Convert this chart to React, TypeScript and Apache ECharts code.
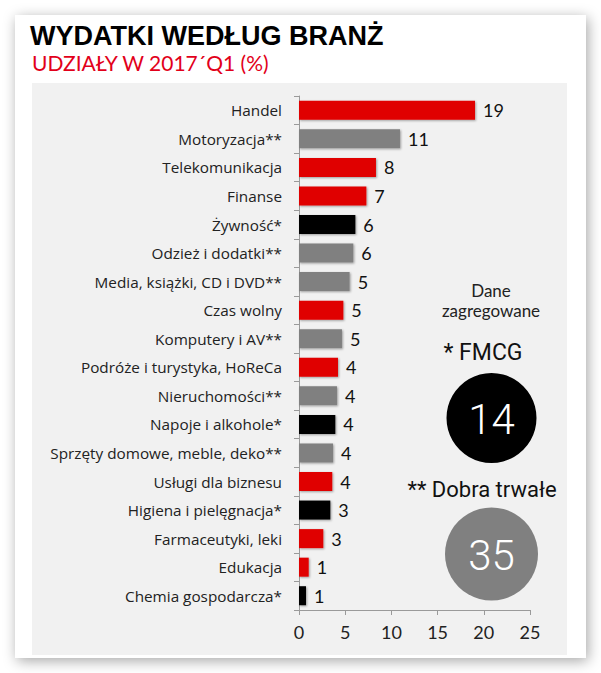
import React, { useEffect, useRef } from "react";
import * as echarts from "echarts";

const categories = [
  "Handel",
  "Motoryzacja**",
  "Telekomunikacja",
  "Finanse",
  "Żywność*",
  "Odzież i dodatki**",
  "Media, książki, CD i DVD**",
  "Czas wolny",
  "Komputery i AV**",
  "Podróże i turystyka, HoReCa",
  "Nieruchomości**",
  "Napoje i alkohole*",
  "Sprzęty domowe, meble, deko**",
  "Usługi dla biznesu",
  "Higiena i pielęgnacja*",
  "Farmaceutyki, leki",
  "Edukacja",
  "Chemia gospodarcza*",
];
const values = [19.05, 10.93, 8.33, 7.29, 6.1, 5.88, 5.48, 4.8, 4.65, 4.22, 4.11, 3.93, 3.68, 3.6, 3.39, 2.63, 1.05, 0.76];
const valueLabels = ["19", "11", "8", "7", "6", "6", "5", "5", "5", "4", "4", "4", "4", "4", "3", "3", "1", "1"];
// o = other, f = FMCG (*), d = durable goods (**)
const groups = ["o", "d", "o", "o", "f", "d", "d", "o", "d", "o", "d", "f", "d", "o", "f", "o", "o", "f"];
const groupColors: Record<string, string> = { o: "#e00000", f: "#000000", d: "#808080" };
const fmcgTotal = "14";
const durableTotal = "35";
const xMin = 0;
const xMax = 25;
const xInterval = 5;

const title = "WYDATKI WEDŁUG BRANŻ";
const subtitle = "UDZIAŁY W 2017´Q1 (%)";

export default function App() {
  const ref = useRef<HTMLDivElement>(null);
  useEffect(() => {
    if (!ref.current) return;
    const chart = echarts.init(ref.current, null, { renderer: "svg" });
    const labelFont = "Roboto, 'Liberation Sans', sans-serif";
    const catFont = "'Open Sans', Roboto, sans-serif";
    const geoFont = "Lato, 'Noto Sans', sans-serif";
    chart.setOption({
      animation: false,
      backgroundColor: "#ffffff",
      graphic: [
        {
          type: "rect",
          z: -10,
          shape: { x: 15, y: 15, width: 571, height: 643 },
          style: { fill: "#ffffff", shadowBlur: 14, shadowColor: "rgba(0,0,0,0.35)", shadowOffsetX: 2, shadowOffsetY: 3 },
        },
        {
          type: "rect",
          z: -9,
          shape: { x: 32, y: 83, width: 535, height: 572 },
          style: { fill: "#f1f1f1" },
        },
        {
          type: "text",
          x: 30,
          y: 22,
          style: { text: title, fill: "#000", font: "bold 27px 'Liberation Sans', Arial, sans-serif" },
        },
        {
          type: "text",
          x: 32,
          y: 52,
          style: { text: subtitle, fill: "#e2001a", font: "21px " + geoFont },
        },
        {
          type: "text",
          x: 491,
          y: 300,
          style: { text: "Dane\nzagregowane", fill: "#222", font: "17px " + geoFont, align: "center", verticalAlign: "middle", lineHeight: 20 },
        },
        {
          type: "text",
          x: 483,
          y: 352,
          style: { text: "* FMCG", fill: "#111", font: "23px " + labelFont, align: "center", verticalAlign: "middle" },
        },
        {
          type: "circle",
          shape: { cx: 491.5, cy: 418, r: 45 },
          style: { fill: "#000" },
        },
        {
          type: "text",
          x: 491.5,
          y: 419,
          style: { text: fmcgTotal, fill: "#fff", font: "300 42px " + labelFont, align: "center", verticalAlign: "middle" },
        },
        {
          type: "text",
          x: 482,
          y: 489,
          style: { text: "** Dobra trwałe", fill: "#111", font: "22px " + labelFont, align: "center", verticalAlign: "middle" },
        },
        {
          type: "circle",
          shape: { cx: 491.5, cy: 554, r: 46.5 },
          style: { fill: "#808080" },
        },
        {
          type: "text",
          x: 491.5,
          y: 555,
          style: { text: durableTotal, fill: "#fff", font: "300 42px " + labelFont, align: "center", verticalAlign: "middle" },
        },
      ],
      grid: { left: 299, right: 71, top: 96, bottom: 63, containLabel: false },
      xAxis: {
        type: "value",
        min: xMin,
        max: xMax,
        interval: xInterval,
        splitLine: { show: false },
        axisLine: { show: true, lineStyle: { color: "#9a9a9a", width: 1 } },
        axisTick: { show: true, length: 5, lineStyle: { color: "#9a9a9a" } },
        axisLabel: { color: "#222", fontSize: 18, fontFamily: geoFont, margin: 13 },
      },
      yAxis: {
        type: "category",
        data: categories,
        inverse: true,
        axisLine: { show: true, lineStyle: { color: "#9a9a9a", width: 1 } },
        axisTick: { show: true, length: 5, lineStyle: { color: "#9a9a9a" } },
        axisLabel: { color: "#222", fontSize: 15.3, fontFamily: catFont, margin: 17 },
      },
      series: [
        {
          type: "bar",
          barWidth: 19,
          data: values.map((v, i) => ({
            value: v,
            itemStyle: {
              color: groupColors[groups[i]],
              shadowBlur: 2,
              shadowColor: "rgba(0,0,0,0.35)",
              shadowOffsetX: 1,
              shadowOffsetY: 1,
            },
          })),
          label: {
            show: true,
            position: "right",
            distance: 8,
            color: "#111",
            fontSize: 18,
            fontFamily: geoFont,
            formatter: (p: any) => valueLabels[p.dataIndex],
          },
        },
      ],
    });
    return () => chart.dispose();
  }, []);
  return <div ref={ref} style={{ position: "absolute", left: 0, top: 0, width: 601, height: 673 }} />;
}
